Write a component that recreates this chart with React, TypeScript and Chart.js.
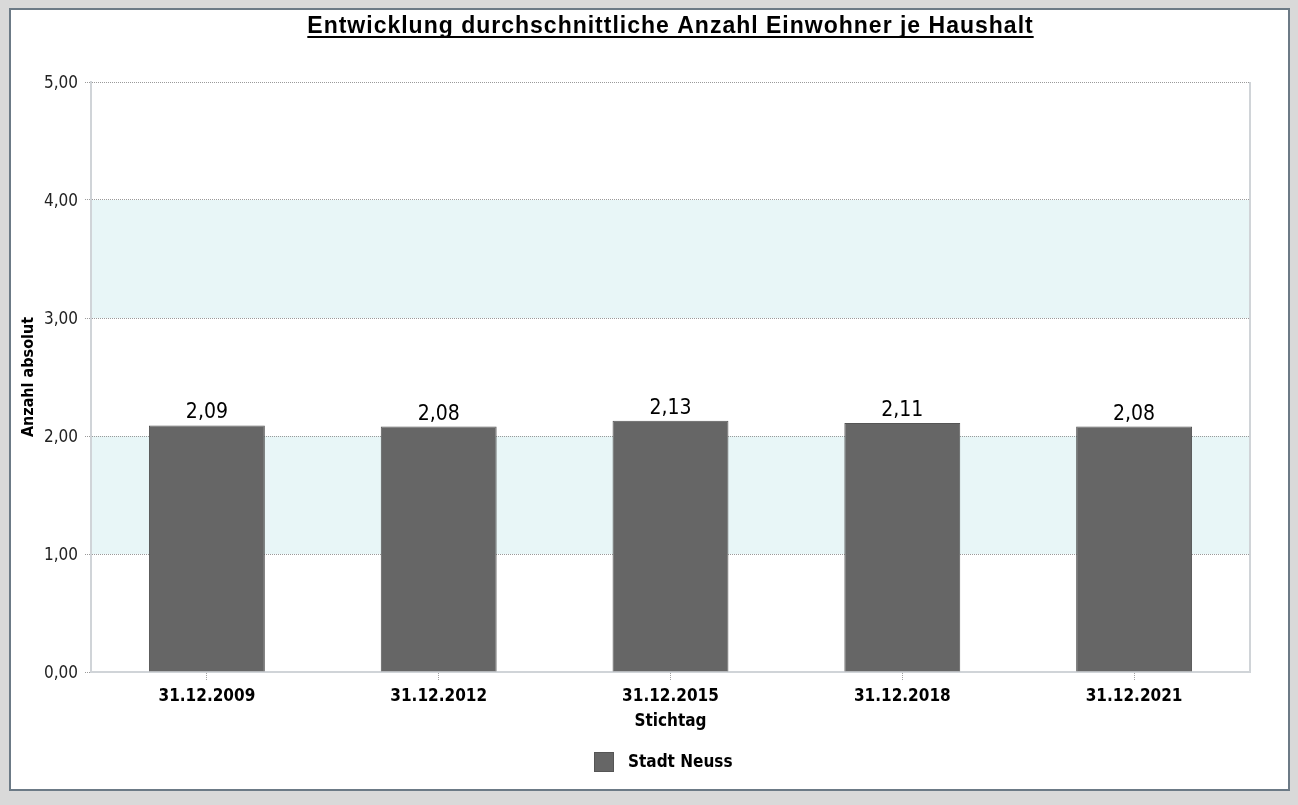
import React, { useEffect, useRef } from "react";
import { Chart, registerables } from "chart.js";

Chart.register(...registerables);

const categories = ["31.12.2009", "31.12.2012", "31.12.2015", "31.12.2018", "31.12.2021"];
const values = [2.09, 2.08, 2.13, 2.11, 2.08];
const seriesName = "Stadt Neuss";
const yMin = 0;
const yMax = 5;
const yStep = 1;
const bandRanges = [
  [1, 2],
  [3, 4],
];
const titleText = "Entwicklung durchschnittliche Anzahl Einwohner je Haushalt";
const yTitle = "Anzahl absolut";
const xTitle = "Stichtag";

const FONT = '"DejaVu Sans Condensed", "DejaVu Sans", sans-serif';
const fmt = (v: number) => Number(v).toFixed(2).replace(".", ",");

const bandsPlugin = {
  id: "bands",
  beforeDraw(chart: any) {
    const { ctx, chartArea, scales } = chart;
    const y = scales.y;
    ctx.save();
    ctx.fillStyle = "#e8f6f7";
    bandRanges.forEach(([a, b]) => {
      const top = y.getPixelForValue(b);
      const bot = y.getPixelForValue(a);
      ctx.fillRect(chartArea.left, top, chartArea.right - chartArea.left, bot - top);
    });
    ctx.restore();
  },
  afterDraw(chart: any) {
    const { ctx, chartArea } = chart;
    ctx.save();
    ctx.strokeStyle = "#d0d4d8";
    ctx.lineWidth = 2;
    ctx.beginPath();
    ctx.moveTo(chartArea.right, chartArea.top);
    ctx.lineTo(chartArea.right, chartArea.bottom);
    ctx.stroke();
    ctx.restore();
  },
};

const titlePlugin = {
  id: "underlinedTitle",
  afterDraw(chart: any) {
    const { ctx, chartArea } = chart;
    const cx = (chartArea.left + chartArea.right) / 2;
    ctx.save();
    ctx.font = 'bold 23px "Liberation Sans", Arial, sans-serif';
    try {
      (ctx as any).letterSpacing = "1px";
    } catch (e) {}
    ctx.fillStyle = "#000";
    ctx.textAlign = "center";
    ctx.textBaseline = "alphabetic";
    ctx.fillText(titleText, cx, 23);
    const w = ctx.measureText(titleText).width;
    ctx.fillRect(cx - w / 2, 26, w, 2);
    ctx.restore();
  },
};

const legendPlugin = {
  id: "customLegend",
  afterDraw(chart: any) {
    const { ctx, chartArea } = chart;
    const ds = chart.data.datasets[0];
    ctx.save();
    ctx.font = `bold 17px ${FONT}`;
    const tw = ctx.measureText(ds.label).width;
    const box = 20;
    const gap = 14;
    const total = box + gap + tw;
    const cx = (chartArea.left + chartArea.right) / 2 - 7;
    const x0 = Math.round(cx - total / 2);
    const cy = chartArea.bottom + 90;
    ctx.fillStyle = ds.backgroundColor;
    ctx.fillRect(x0, cy - box / 2, box, box);
    ctx.strokeStyle = ds.borderColor;
    ctx.lineWidth = 1;
    ctx.strokeRect(x0 + 0.5, cy - box / 2 + 0.5, box - 1, box - 1);
    ctx.fillStyle = "#000";
    ctx.textAlign = "left";
    ctx.textBaseline = "middle";
    ctx.fillText(ds.label, x0 + box + gap, cy + 1);
    ctx.restore();
  },
};

const valueLabelPlugin = {
  id: "valueLabels",
  afterDatasetsDraw(chart: any) {
    const { ctx } = chart;
    const meta = chart.getDatasetMeta(0);
    const data = chart.data.datasets[0].data;
    ctx.save();
    ctx.font = `21px ${FONT}`;
    ctx.fillStyle = "#000";
    ctx.textAlign = "center";
    ctx.textBaseline = "alphabetic";
    meta.data.forEach((bar: any, i: number) => {
      ctx.fillText(fmt(data[i]), bar.x, bar.y - 7);
    });
    ctx.restore();
  },
};

export default function App() {
  const ref = useRef<HTMLCanvasElement>(null);

  useEffect(() => {
    if (!ref.current) return;
    const chart = new Chart(ref.current, {
      type: "bar",
      data: {
        labels: categories,
        datasets: [
          {
            label: seriesName,
            data: values,
            backgroundColor: "#666666",
            borderColor: "#555555",
            borderWidth: 1,
            barPercentage: 0.5,
            categoryPercentage: 1,
          },
        ],
      },
      options: {
        responsive: false,
        animation: false,
        layout: { padding: { top: 72, right: 38, bottom: 49, left: 0 } },
        plugins: {
          title: { display: false },
          tooltip: { enabled: false },
          legend: { display: false },
        },
        scales: {
          x: {
            grid: {
              display: true,
              drawOnChartArea: false,
              drawTicks: true,
              offset: false,
              tickLength: 8,
              tickColor: "#a0a0a0",
              tickBorderDash: [1, 1],
              tickWidth: 1,
            },
            border: { display: true, color: "#d0d4d8", width: 2 },
            ticks: {
              color: "#000",
              padding: 6,
              maxRotation: 0,
              font: { family: FONT, size: 17, weight: "bold" },
            },
            title: {
              display: true,
              text: xTitle,
              color: "#000",
              font: { family: FONT, size: 17, weight: "bold" },
              padding: { top: 0, bottom: 8 },
            },
            afterFit: (s: any) => {
              s.height = 68;
            },
          },
          y: {
            min: yMin,
            max: yMax,
            ticks: {
              stepSize: yStep,
              color: "#222",
              padding: 7,
              labelOffset: 2,
              font: { family: FONT, size: 17 },
              callback: (v: any) => fmt(v),
            },
            grid: {
              color: "#9a9a9a",
              lineWidth: 1,
              tickLength: 6,
              tickColor: "#9a9a9a",
              tickBorderDash: [1, 1],
            },
            border: { display: true, color: "#d0d4d8", width: 2, dash: [1, 1] },
            title: {
              display: true,
              text: yTitle,
              color: "#000",
              font: { family: FONT, size: 16, weight: "bold" },
              padding: { top: 8, bottom: 0 },
            },
            afterFit: (s: any) => {
              s.width = 80;
            },
          },
        },
      },
      plugins: [bandsPlugin, titlePlugin, valueLabelPlugin, legendPlugin],
    } as any);
    return () => chart.destroy();
  }, []);

  return (
    <div
      style={{
        position: "fixed",
        left: 0,
        top: 0,
        width: 1298,
        height: 805,
        background: "#d9d9d9",
      }}
    >
      <div
        style={{
          position: "absolute",
          left: 9,
          top: 8,
          width: 1281,
          height: 783,
          boxSizing: "border-box",
          border: "2px solid #6c7a86",
          background: "#fff",
        }}
      >
        <canvas ref={ref} width={1277} height={779} style={{ display: "block" }} />
      </div>
    </div>
  );
}
